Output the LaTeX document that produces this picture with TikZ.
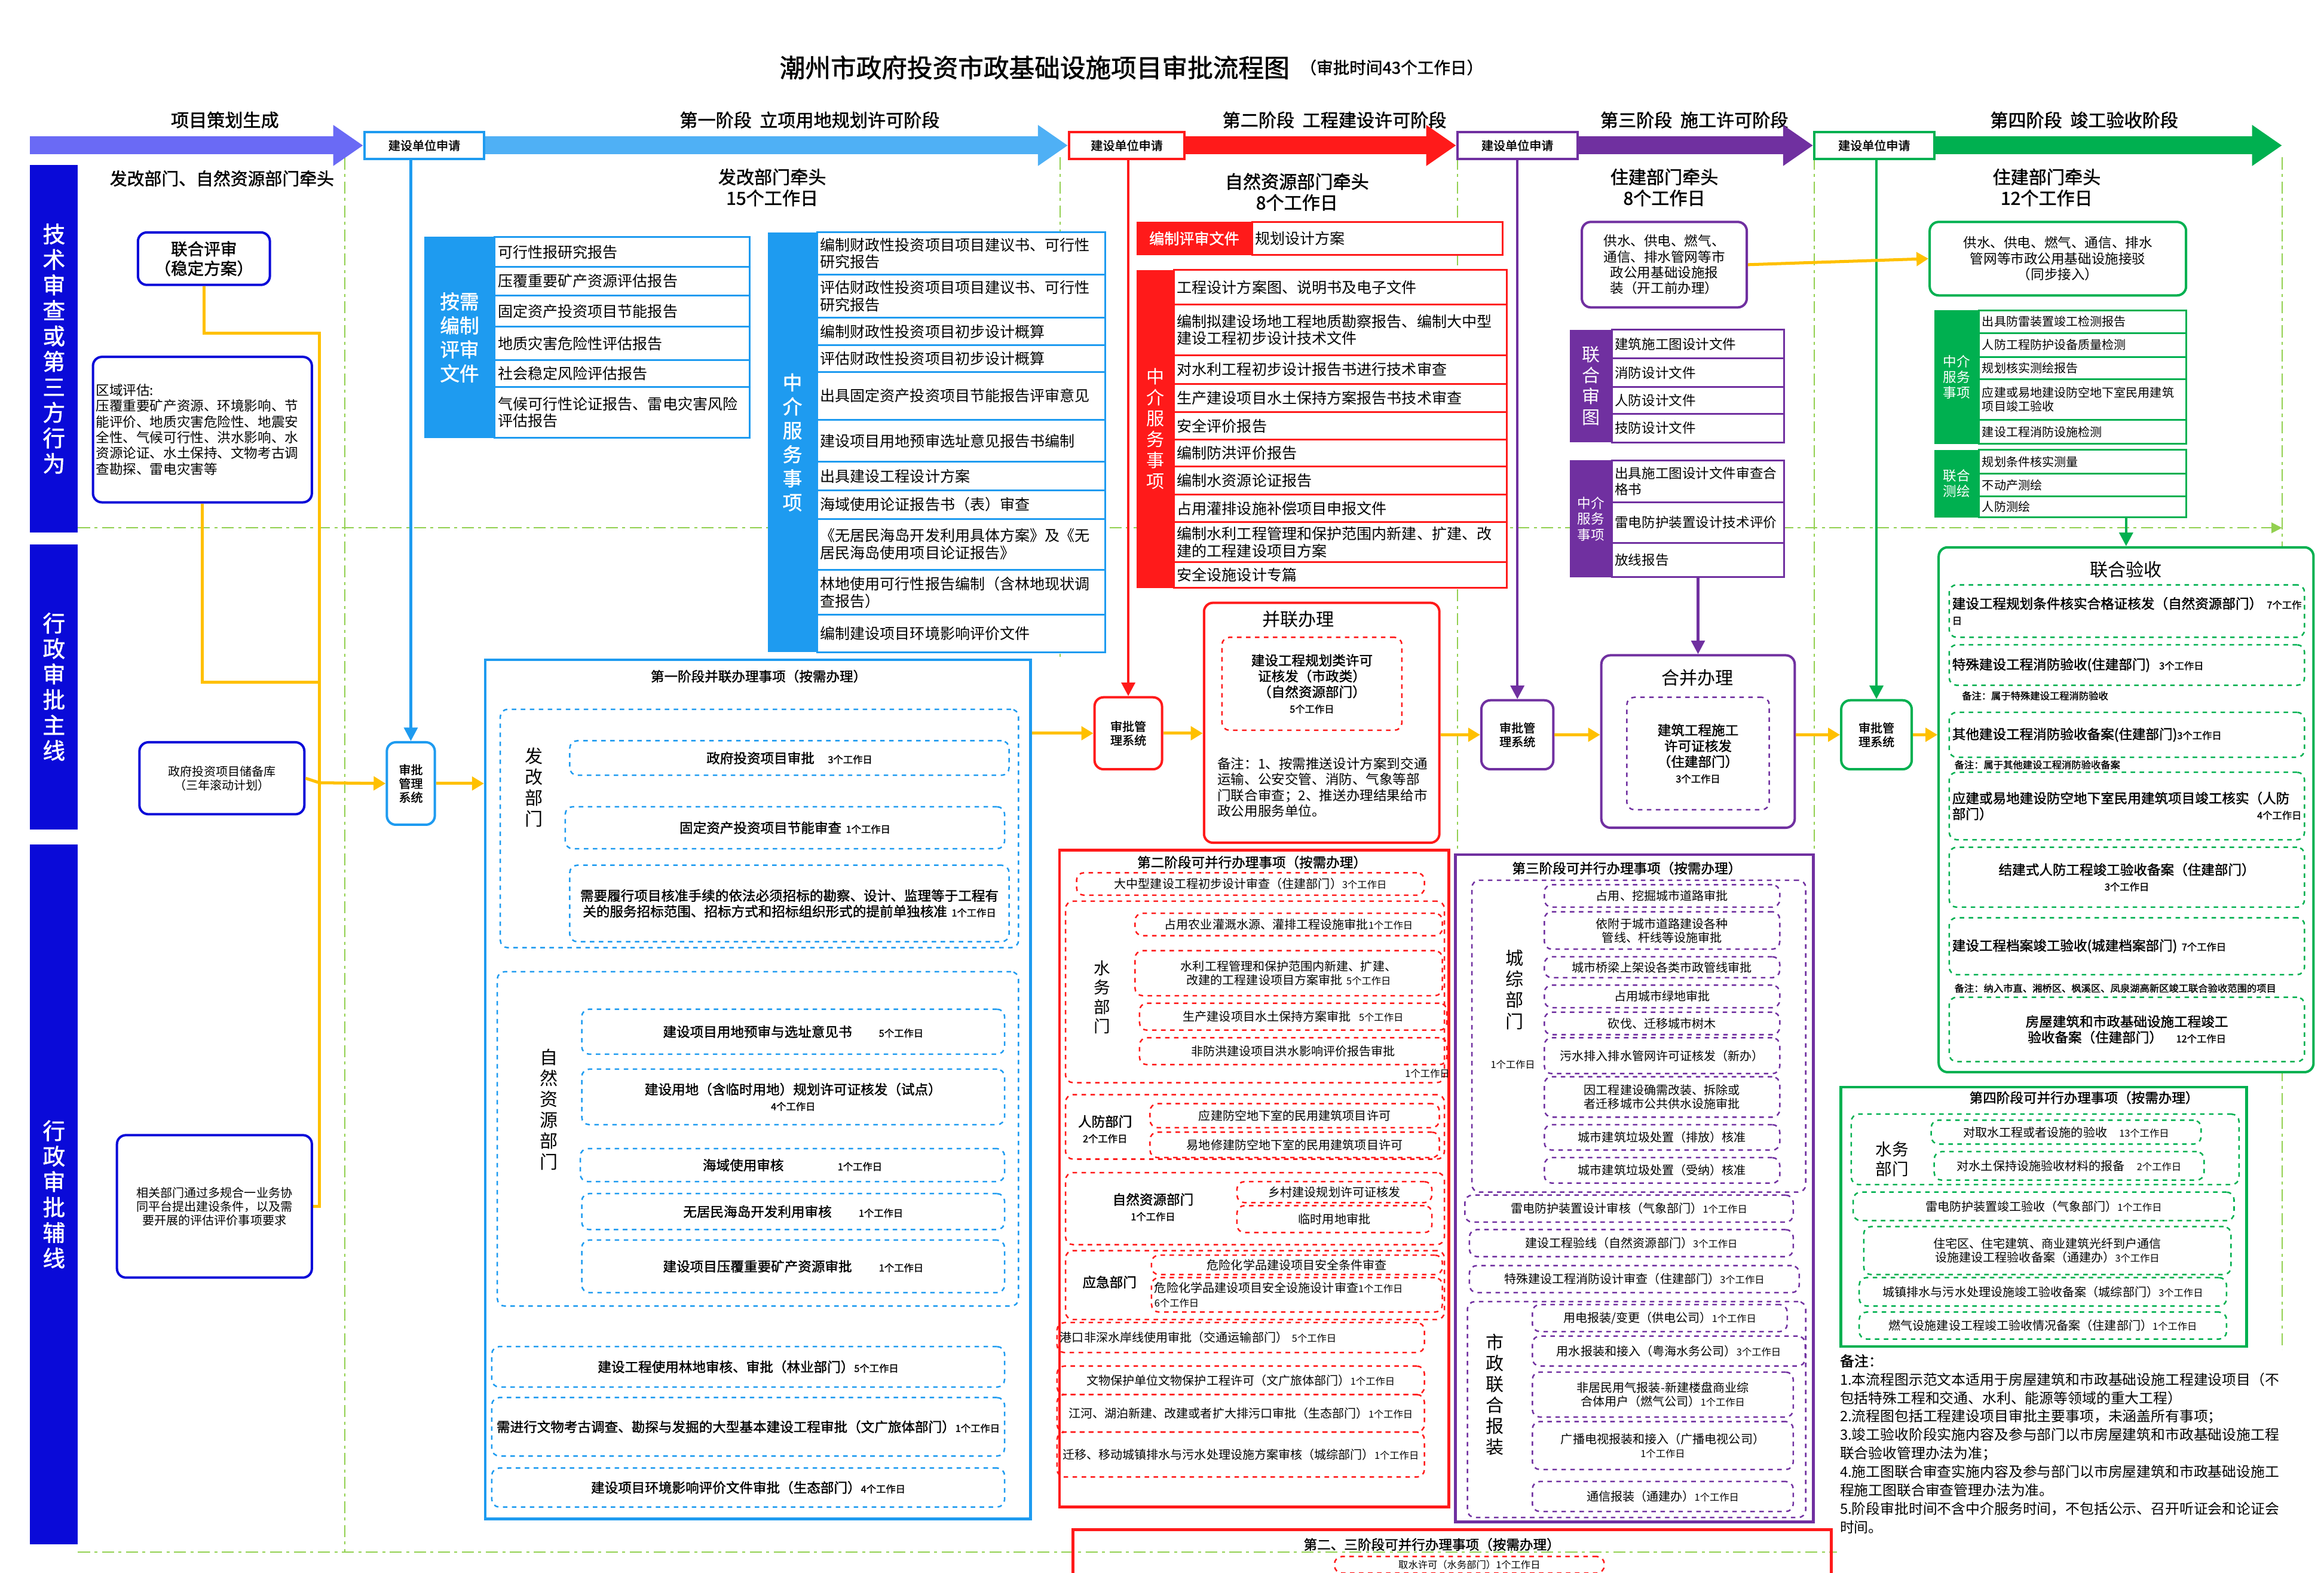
\documentclass[tikz,border=0pt]{standalone}
\usepackage{fontspec}
\setmainfont{Noto Sans CJK SC}[AutoFakeBold=1.5]
\XeTeXlinebreaklocale "zh"
\XeTeXlinebreakskip=0pt
\usetikzlibrary{arrows.meta}
\definecolor{bandblue}{HTML}{6A6AF5}
\definecolor{bandlblue}{HTML}{4FB0F5}
\definecolor{lblue}{HTML}{1E9BF0}
\definecolor{dblue}{HTML}{0A0AD8}
\definecolor{sred}{HTML}{FF1A1A}
\definecolor{spurple}{HTML}{7030A0}
\definecolor{sgreen}{HTML}{00B050}
\definecolor{syellow}{HTML}{FFC000}
\definecolor{dgreen}{HTML}{92D050}
\newcommand{\fa}{\fontsize{10}{11.5}\selectfont}
\newcommand{\fb}{\fontsize{9}{10.5}\selectfont}
\newcommand{\fc}{\fontsize{8}{9.2}\selectfont}
\newcommand{\fd}{\fontsize{6.5}{7.5}\selectfont}
% box from corner (#2,#3) to corner (#4,#5)
\newcommand{\bx}[7]{%
  \pgfmathsetmacro\bxw{#4-#2}\pgfmathsetmacro\bxh{#5-#3}\pgfmathsetmacro\bxt{#4-#2-4}%
  \node[#6, minimum width=\bxw pt, minimum height=\bxh pt, text width=\bxt pt]
    (#1) at ({(#2+#4)/2},{(#3+#5)/2}) {#7};}
\tikzset{
  sb/.style={draw=#1, line width=1.2pt, fill=white, align=left, inner sep=2pt, font=\fa},
  db/.style={draw=#1, dashed, rounded corners=5pt, line width=1pt, align=center, inner sep=2pt, font=\fa},
  grp/.style={draw=#1, dashed, rounded corners=5pt, line width=1pt},
  lb/.style={fill=#1, text=white, align=center, inner sep=2pt, font=\fa\bfseries},
  sysbox/.style={draw=#1, line width=1.6pt, rounded corners=6pt, fill=white, align=center, inner sep=1pt, font=\fc\bfseries},
  appbox/.style={draw=#1, line width=1.6pt, fill=white, align=center, inner sep=1pt, font=\fc\bfseries},
  band/.style={line width=12pt, draw=#1, -{Triangle[length=20pt,width=26pt]}},
  vline/.style={line width=1.8pt, draw=#1, -{Triangle[length=9pt,width=9pt]}},
  yl/.style={line width=2pt, draw=syellow},
  yla/.style={yl, -{Triangle[length=8pt,width=9pt]}},
  sep/.style={draw=dgreen, line width=0.9pt, dash pattern=on 8pt off 3pt on 2pt off 3pt},
  vbar/.style={fill=dblue, text=white, align=center, inner sep=0pt, font=\fontsize{15}{17}\selectfont\bfseries},
  head/.style={align=center, font=\fontsize{12}{14}\selectfont\bfseries},
}
\begin{document}
\begin{tikzpicture}[x=1pt, y=-1pt]
\useasboundingbox (0,0) rectangle (1550,1049);
% separators
\draw[sep] (230,105) -- (230,1035);
\draw[sep] (707,105) -- (707,440);
\draw[sep] (972,105) -- (972,570);
\draw[sep] (1210,105) -- (1210,900);
\draw[sep] (1522,105) -- (1522,900);
\draw[sep, -{Triangle[length=7pt,width=7pt]}] (52,352) -- (1522,352);
\draw[sep] (52,1035) -- (1225,1035);
% title
\node[font=\fontsize{17}{20}\selectfont\bfseries] (title) at (690,45) {潮州市政府投资市政基础设施项目审批流程图};
\node[font=\fontsize{11}{13}\selectfont\bfseries, anchor=west] (titlex) at (title.east) {（审批时间43个工作日）};
% stage headings
\node[head] (h0) at (150,80) {项目策划生成};
\node[head] (h1) at (540,80) {第一阶段\ \ 立项用地规划许可阶段};
\node[head] (h2) at (890,80) {第二阶段\ \ 工程建设许可阶段};
\node[head] (h3) at (1130,80) {第三阶段\ \ 施工许可阶段};
\node[head] (h4) at (1390,80) {第四阶段\ \ 竣工验收阶段};
% top band
\coordinate (bandstart) at (20,97);
\bx{app1}{243}{88}{323}{106}{appbox=lblue}{建设单位申请}
\bx{app2}{713}{88}{790}{106}{appbox=sred}{建设单位申请}
\bx{app3}{972}{88}{1052}{106}{appbox=spurple}{建设单位申请}
\bx{app4}{1210}{88}{1290}{106}{appbox=sgreen}{建设单位申请}
\coordinate (bandend) at (1522,97);
\draw[band=bandblue] (bandstart) -- (app1.west);
\draw[band=bandlblue] (app1.east) -- (app2.west);
\draw[band=sred] (app2.east) -- (app3.west);
\draw[band=spurple] (app3.east) -- (app4.west);
\draw[band=sgreen] (app4.east) -- (bandend);
% left bars
\bx{bar1}{20}{110}{52}{355}{vbar}{技\\术\\审\\查\\或\\第\\三\\方\\行\\为}
\bx{bar2}{20}{363}{52}{553}{vbar}{行\\政\\审\\批\\主\\线}
\bx{bar3}{20}{563}{52}{1030}{vbar}{行\\政\\审\\批\\辅\\线}
% leads
\node[head, font=\fontsize{11.5}{14}\selectfont\bfseries] (lead0) at (148,119) {发改部门、自然资源部门牵头};
\node[head] (lead1) at (515,125) {发改部门牵头\\15个工作日};
\node[head] (lead2) at (865,128) {自然资源部门牵头\\8个工作日};
\node[head] (lead3) at (1110,125) {住建部门牵头\\8个工作日};
\node[head] (lead4) at (1365,125) {住建部门牵头\\12个工作日};
% planning column
\bx{joint}{92}{155}{180}{190}{sysbox=dblue, font=\fontsize{11}{13}\selectfont\bfseries}{联合评审\\（稳定方案）}
\bx{region}{62}{238}{208}{335}{sysbox=dblue, align=left, font=\fb\mdseries}{区域评估:\\压覆重要矿产资源、环境影响、节能评价、地质灾害危险性、地震安全性、气候可行性、洪水影响、水资源论证、水土保持、文物考古调查勘探、雷电灾害等}
\bx{reserve}{93}{495}{203}{543}{sysbox=dblue, font=\fc\mdseries}{政府投资项目储备库\\（三年滚动计划）}
\bx{multi}{78}{757}{208}{852}{sysbox=dblue, font=\fc\mdseries}{相关部门通过多规合一业务协同平台提出建设条件，以及需要开展的评估评价事项要求}
\coordinate (jn) at (213,522);
\coordinate (ja) at (213,222);
\coordinate (jb) at (213,455);
\draw[yl] (joint.south) |- (ja) -- (jn);
\draw[yl] (region.south) |- (jb);
\draw[yl] (multi.east) -| (jn);
\draw[yl] (reserve.east) -- (jn);
% stage 1
\bx{sys1}{258}{495}{290}{550}{sysbox=lblue}{审批\\管理\\系统}
\draw[yla] (jn) -- (sys1.west);
\draw[vline=lblue] (app1.south -| sys1) -- (sys1.north);
\bx{l1a}{283}{158}{330}{292}{lb=lblue, font=\fontsize{13}{16}\selectfont\bfseries}{按需\\编制\\评审\\文件}
\bx{a1}{330}{158}{500}{178}{sb=lblue}{可行性报研究报告}
\bx{a2}{330}{178}{500}{197}{sb=lblue}{压覆重要矿产资源评估报告}
\bx{a3}{330}{197}{500}{218}{sb=lblue}{固定资产投资项目节能报告}
\bx{a4}{330}{218}{500}{240}{sb=lblue}{地质灾害危险性评估报告}
\bx{a5}{330}{240}{500}{258}{sb=lblue}{社会稳定风险评估报告}
\bx{a6}{330}{258}{500}{292}{sb=lblue}{气候可行性论证报告、雷电灾害风险评估报告}
\bx{l1b}{512}{155}{545}{435}{lb=lblue, font=\fontsize{13}{16}\selectfont\bfseries}{中\\介\\服\\务\\事\\项}
\bx{b1}{545}{155}{737}{183}{sb=lblue}{编制财政性投资项目项目建议书、可行性研究报告}
\bx{b2}{545}{183}{737}{212}{sb=lblue}{评估财政性投资项目项目建议书、可行性研究报告}
\bx{b3}{545}{212}{737}{230}{sb=lblue}{编制财政性投资项目初步设计概算}
\bx{b4}{545}{230}{737}{248}{sb=lblue}{评估财政性投资项目初步设计概算}
\bx{b5}{545}{248}{737}{280}{sb=lblue}{出具固定资产投资项目节能报告评审意见}
\bx{b6}{545}{280}{737}{308}{sb=lblue}{建设项目用地预审选址意见报告书编制}
\bx{b7}{545}{308}{737}{327}{sb=lblue}{出具建设工程设计方案}
\bx{b8}{545}{327}{737}{346}{sb=lblue}{海域使用论证报告书（表）审查}
\bx{b9}{545}{346}{737}{380}{sb=lblue}{《无居民海岛开发利用具体方案》及《无居民海岛使用项目论证报告》}
\bx{b10}{545}{380}{737}{410}{sb=lblue}{林地使用可行性报告编制（含林地现状调查报告）}
\bx{b11}{545}{410}{737}{435}{sb=lblue}{编制建设项目环境影响评价文件}
% stage 1 parallel
\bx{p1}{325}{440}{686}{1013}{draw=lblue, line width=1.8pt}{}
\node[font=\fb\bfseries] (p1t) at (506,451) {第一阶段并联办理事项（按需办理）};
\bx{g1}{335}{473}{678}{632}{grp=lblue}{}
\node[align=center, font=\fontsize{12}{14}\selectfont] (g1l) at (356,525) {发\\改\\部\\门};
\bx{c1}{380}{494}{673}{517}{db=lblue, font=\fb\bfseries}{政府投资项目审批\quad{\fd 3个工作日}}
\bx{c2}{377}{538}{670}{566}{db=lblue, font=\fb\bfseries}{固定资产投资项目节能审查\ {\fd 1个工作日}}
\bx{c3}{380}{577}{673}{628}{db=lblue, font=\fb\bfseries}{需要履行项目核准手续的依法必须招标的勘察、设计、监理等于工程有关的服务招标范围、招标方式和招标组织形式的提前单独核准\ {\fd 1个工作日}}
\bx{g2}{333}{648}{678}{871}{grp=lblue}{}
\node[align=center, font=\fontsize{12}{14}\selectfont] (g2l) at (366,740) {自\\然\\资\\源\\部\\门};
\bx{c4}{388}{673}{670}{703}{db=lblue, font=\fb\bfseries}{建设项目用地预审与选址意见书\qquad{\fd 5个工作日}}
\bx{c5}{388}{713}{670}{750}{db=lblue, font=\fb\bfseries}{建设用地（含临时用地）规划许可证核发（试点）\\{\fd 4个工作日}}
\bx{c6}{387}{766}{670}{788}{db=lblue, font=\fb\bfseries}{海域使用审核\qquad\qquad{\fd 1个工作日}}
\bx{c7}{388}{796}{670}{820}{db=lblue, font=\fb\bfseries}{无居民海岛开发利用审核\qquad{\fd 1个工作日}}
\bx{c8}{388}{827}{670}{862}{db=lblue, font=\fb\bfseries}{建设项目压覆重要矿产资源审批\qquad{\fd 1个工作日}}
\bx{c9}{328}{898}{670}{925}{db=lblue, font=\fb\bfseries}{建设工程使用林地审核、审批（林业部门）{\fd 5个工作日}}
\bx{c10}{328}{932}{670}{971}{db=lblue, font=\fb\bfseries}{需进行文物考古调查、勘探与发掘的大型基本建设工程审批（文广旅体部门）{\fd 1个工作日}}
\bx{c11}{328}{979}{670}{1005}{db=lblue, font=\fb\bfseries}{建设项目环境影响评价文件审批（生态部门）{\fd 4个工作日}}
\draw[yla] (sys1.east) -- (sys1.east -| p1.west);
% stage 2
\bx{sys2}{730}{465}{775}{513}{sysbox=sred}{审批管\\理系统}
\draw[vline=sred] (app2.south -| sys2) -- (sys2.north);
\draw[yla] (p1.east |- sys2) -- (sys2.west);
\bx{l2a}{758}{148}{835}{170}{lb=sred}{编制评审文件}
\bx{d0}{835}{148}{1002}{170}{sb=sred}{规划设计方案}
\bx{l2b}{758}{180}{783}{392}{lb=sred, font=\fontsize{12}{14}\selectfont}{中\\介\\服\\务\\事\\项}
\bx{d1}{783}{180}{1005}{203}{sb=sred}{工程设计方案图、说明书及电子文件}
\bx{d2}{783}{203}{1005}{237}{sb=sred}{编制拟建设场地工程地质勘察报告、编制大中型建设工程初步设计技术文件}
\bx{d3}{783}{237}{1005}{256}{sb=sred}{对水利工程初步设计报告书进行技术审查}
\bx{d4}{783}{256}{1005}{275}{sb=sred}{生产建设项目水土保持方案报告书技术审查}
\bx{d5}{783}{275}{1005}{293}{sb=sred}{安全评价报告}
\bx{d6}{783}{293}{1005}{311}{sb=sred}{编制防洪评价报告}
\bx{d7}{783}{311}{1005}{330}{sb=sred}{编制水资源论证报告}
\bx{d8}{783}{330}{1005}{348}{sb=sred}{占用灌排设施补偿项目申报文件}
\bx{d9}{783}{348}{1005}{375}{sb=sred}{编制水利工程管理和保护范围内新建、扩建、改建的工程建设项目方案}
\bx{d10}{783}{375}{1005}{392}{sb=sred}{安全设施设计专篇}
\bx{merge2}{803}{402}{960}{562}{sysbox=sred, font=\fa}{}
\node[font=\fontsize{12}{14}\selectfont] (m2t) at (866,413) {并联办理};
\bx{m2a}{815}{425}{935}{487}{db=sred, font=\fb\bfseries}{建设工程规划类许可证核发（市政类）\\（自然资源部门）\\{\fd 5个工作日}}
\node[text width=140pt, align=left, font=\fb] (m2n) at (882,525) {备注：1、按需推送设计方案到交通运输、公安交管、消防、气象等部门联合审查；2、推送办理结果给市政公用服务单位。};
\draw[yla] (sys2.east) -- (sys2.east -| merge2.west);
% stage 2 parallel
\bx{p2}{708}{567}{965}{1005}{draw=sred, line width=1.8pt}{}
\node[font=\fb\bfseries] (p2t) at (835,575) {第二阶段可并行办理事项（按需办理）};
\bx{e0}{718}{582}{950}{597}{db=sred, font=\fc}{大中型建设工程初步设计审查（住建部门）{\fd 3个工作日}}
\bx{gw}{712}{601}{962}{722}{grp=sred}{}
\node[align=center, font=\fontsize{11}{13}\selectfont] (gwl) at (735,665) {水\\务\\部\\门};
\bx{e1}{757}{609}{962}{624}{db=sred, font=\fc}{占用农业灌溉水源、灌排工程设施审批{\fd 1个工作日}}
\bx{e2}{757}{634}{962}{664}{db=sred, font=\fc}{水利工程管理和保护范围内新建、扩建、改建的工程建设项目方案审批\ {\fd 5个工作日}}
\bx{e3}{760}{669}{965}{687}{db=sred, font=\fc}{生产建设项目水土保持方案审批\ \ {\fd 5个工作日}}
\bx{e4}{760}{692}{965}{710}{db=sred, font=\fc}{非防洪建设项目洪水影响评价报告审批}
\node[font=\fd] (e4d) at (952,716) {1个工作日};
\bx{gr}{712}{730}{962}{773}{grp=sred}{}
\node[align=center, font=\fb\bfseries] (grl) at (737,753) {人防部门\\{\fd 2个工作日}};
\bx{e5}{767}{736}{960}{752}{db=sred, font=\fc}{应建防空地下室的民用建筑项目许可}
\bx{e6}{767}{755}{960}{772}{db=sred, font=\fc}{易地修建防空地下室的民用建筑项目许可}
\bx{gz}{712}{782}{962}{830}{grp=sred}{}
\node[align=center, font=\fb\bfseries] (gzl) at (769,805) {自然资源部门\\{\fd 1个工作日}};
\bx{e7}{825}{788}{955}{802}{db=sred, font=\fc}{乡村建设规划许可证核发}
\bx{e8}{825}{804}{955}{822}{db=sred, font=\fc}{临时用地审批}
\bx{gy}{712}{834}{962}{880}{grp=sred}{}
\node[font=\fb\bfseries] (gyl) at (740,855) {应急部门};
\bx{e9}{768}{837}{962}{850}{db=sred, font=\fc}{危险化学品建设项目安全条件审查}
\bx{e10}{768}{852}{962}{875}{db=sred, font=\fc, align=left}{危险化学品建设项目安全设施设计审查{\fd 1个工作日}\\{\fd 6个工作日}}
\bx{e11}{705}{882}{950}{902}{db=sred, font=\fc, align=left}{港口非深水岸线使用审批（交通运输部门）\ {\fd 5个工作日}}
\bx{e12}{705}{911}{950}{930}{db=sred, font=\fc}{文物保护单位文物保护工程许可（文广旅体部门）{\fd 1个工作日}}
\bx{e13}{705}{930}{950}{955}{db=sred, font=\fc}{江河、湖泊新建、改建或者扩大排污口审批（生态部门）{\fd 1个工作日}}
\bx{e14}{705}{955}{950}{985}{db=sred, font=\fc}{迁移、移动城镇排水与污水处理设施方案审核（城综部门）{\fd 1个工作日}}
% stage 2-3 parallel (cut off)
\bx{p23}{717}{1020}{1220}{1080}{draw=sred, line width=1.8pt}{}
\node[font=\fb\bfseries] (p23t) at (955,1030) {第二、三阶段可并行办理事项（按需办理）};
\bx{f1}{890}{1038}{1070}{1049}{db=sred, font=\fd, inner sep=0.5pt}{取水许可（水务部门）1个工作日}
% stage 3
\bx{sys3}{988}{467}{1036}{513}{sysbox=spurple}{审批管\\理系统}
\draw[vline=spurple] (app3.south -| sys3) -- (sys3.north);
\draw[yla] (merge2.east |- sys3) -- (sys3.west);
\bx{pre3}{1055}{148}{1165}{205}{sysbox=spurple, font=\fb\mdseries}{供水、供电、燃气、通信、排水管网等市政公用基础设施报装（开工前办理）}
\bx{l3a}{1047}{220}{1075}{295}{lb=spurple, font=\fontsize{12}{14}\selectfont}{联\\合\\审\\图}
\bx{k1}{1075}{220}{1190}{239}{sb=spurple, font=\fb}{建筑施工图设计文件}
\bx{k2}{1075}{239}{1190}{258}{sb=spurple, font=\fb}{消防设计文件}
\bx{k3}{1075}{258}{1190}{276}{sb=spurple, font=\fb}{人防设计文件}
\bx{k4}{1075}{276}{1190}{295}{sb=spurple, font=\fb}{技防设计文件}
\bx{l3b}{1047}{307}{1075}{385}{lb=spurple, font=\fb}{中介\\服务\\事项}
\bx{k5}{1075}{307}{1190}{335}{sb=spurple, font=\fb}{出具施工图设计文件审查合格书}
\bx{k6}{1075}{335}{1190}{362}{sb=spurple, font=\fb}{雷电防护装置设计技术评价}
\bx{k7}{1075}{362}{1190}{385}{sb=spurple, font=\fb}{放线报告}
\bx{merge3}{1068}{437}{1197}{552}{sysbox=spurple}{}
\node[font=\fontsize{12}{14}\selectfont] (m3t) at (1132,452) {合并办理};
\bx{m3a}{1085}{465}{1180}{540}{db=spurple, font=\fb\bfseries}{建筑工程施工许可证核发\\（住建部门）\\{\fd 3个工作日}}
\draw[vline=spurple] (k7.south -| merge3) -- (merge3.north);
\draw[yla] (sys3.east) -- (sys3.east -| merge3.west);
% stage 3 parallel
\bx{p3}{972}{570}{1208}{1015}{draw=spurple, line width=1.8pt}{}
\node[font=\fb\bfseries] (p3t) at (1085,579) {第三阶段可并行办理事项（按需办理）};
\bx{gc}{983}{587}{1203}{795}{grp=spurple}{}
\node[align=center, font=\fontsize{12}{14}\selectfont] (gcl) at (1010,660) {城\\综\\部\\门};
\node[font=\fd] (gcd) at (1009,710) {1个工作日};
\bx{n1}{1030}{590}{1187}{605}{db=spurple, font=\fc}{占用、挖掘城市道路审批}
\bx{n2}{1030}{608}{1187}{633}{db=spurple, font=\fc}{依附于城市道路建设各种管线、杆线等设施审批}
\bx{n3}{1030}{638}{1187}{652}{db=spurple, font=\fc}{城市桥梁上架设各类市政管线审批}
\bx{n4}{1030}{657}{1187}{672}{db=spurple, font=\fc}{占用城市绿地审批}
\bx{n5}{1030}{675}{1187}{690}{db=spurple, font=\fc}{砍伐、迁移城市树木}
\bx{n6}{1030}{692}{1187}{716}{db=spurple, font=\fc}{污水排入排水管网许可证核发（新办）}
\bx{n7}{1030}{718}{1187}{745}{db=spurple, font=\fc}{因工程建设确需改装、拆除或者迁移城市公共供水设施审批}
\bx{n8}{1030}{750}{1187}{767}{db=spurple, font=\fc}{城市建筑垃圾处置（排放）核准}
\bx{n9}{1030}{772}{1187}{789}{db=spurple, font=\fc}{城市建筑垃圾处置（受纳）核准}
\bx{n10}{977}{797}{1196}{815}{db=spurple, font=\fc}{雷电防护装置设计审核（气象部门）{\fd 1个工作日}}
\bx{n11}{980}{820}{1196}{838}{db=spurple, font=\fc}{建设工程验线（自然资源部门）{\fd 3个工作日}}
\bx{n12}{980}{844}{1200}{862}{db=spurple, font=\fc}{特殊建设工程消防设计审查（住建部门）{\fd 3个工作日}}
\bx{gs}{980}{868}{1203}{1012}{grp=spurple}{}
\node[align=center, font=\fontsize{12}{14}\selectfont] (gsl) at (997,930) {市\\政\\联\\合\\报\\装};
\bx{q1}{1022}{870}{1192}{888}{db=spurple, font=\fc}{用电报装/变更（供电公司）{\fd 1个工作日}}
\bx{q2}{1022}{891}{1204}{911}{db=spurple, font=\fc}{用水报装和接入（粤海水务公司）{\fd 3个工作日}}
\bx{q3}{1022}{915}{1196}{945}{db=spurple, font=\fc}{非居民用气报装-新建楼盘商业综合体用户（燃气公司）{\fd 1个工作日}}
\bx{q4}{1022}{948}{1196}{980}{db=spurple, font=\fc}{广播电视报装和接入（广播电视公司）\\{\fd 1个工作日}}
\bx{q5}{1022}{988}{1196}{1008}{db=spurple, font=\fc}{通信报装（通建办）{\fd 1个工作日}}
% stage 4
\bx{sys4}{1228}{467}{1275}{513}{sysbox=sgreen}{审批管\\理系统}
\draw[vline=sgreen] (app4.south -| sys4) -- (sys4.north);
\draw[yla] (merge3.east |- sys4) -- (sys4.west);
\bx{pre4}{1287}{148}{1458}{197}{sysbox=sgreen, font=\fb\mdseries}{供水、供电、燃气、通信、排水管网等市政公用基础设施接驳\\（同步接入）}
\draw[yla] (pre3.east) -- (pre4.west);
\bx{l4a}{1290}{207}{1320}{296}{lb=sgreen, font=\fb}{中介\\服务\\事项}
\bx{r1}{1320}{207}{1458}{222}{sb=sgreen, font=\fc}{出具防雷装置竣工检测报告}
\bx{r2}{1320}{222}{1458}{238}{sb=sgreen, font=\fc}{人防工程防护设备质量检测}
\bx{r3}{1320}{238}{1458}{253}{sb=sgreen, font=\fc}{规划核实测绘报告}
\bx{r4}{1320}{253}{1458}{280}{sb=sgreen, font=\fc}{应建或易地建设防空地下室民用建筑项目竣工验收}
\bx{r5}{1320}{280}{1458}{296}{sb=sgreen, font=\fc}{建设工程消防设施检测}
\bx{l4b}{1290}{300}{1320}{345}{lb=sgreen, font=\fb}{联合\\测绘}
\bx{r6}{1320}{300}{1458}{316}{sb=sgreen, font=\fc}{规划条件核实测量}
\bx{r7}{1320}{316}{1458}{331}{sb=sgreen, font=\fc}{不动产测绘}
\bx{r8}{1320}{331}{1458}{345}{sb=sgreen, font=\fc}{人防测绘}
\bx{acc}{1293}{365}{1543}{715}{sysbox=sgreen}{}
\draw[vline=sgreen] (r8.south -| acc) -- (acc.north);
\draw[yla] (sys4.east) -- (sys4.east -| acc.west);
\node[font=\fontsize{12}{14}\selectfont] (acct) at (1418,380) {联合验收};
\bx{s1}{1300}{390}{1537}{425}{db=sgreen, font=\fb\bfseries, align=left}{建设工程规划条件核实合格证核发（自然资源部门）\hfill{\fd 7个工作日}}
\bx{s2}{1300}{430}{1537}{457}{db=sgreen, font=\fb\bfseries, align=left}{特殊建设工程消防验收(住建部门)\ \ {\fd 3个工作日}}
\node[font=\fd\bfseries, anchor=west] (s2n) at (1305,464) {备注：属于特殊建设工程消防验收};
\bx{s3}{1300}{475}{1537}{505}{db=sgreen, font=\fb\bfseries, align=left}{其他建设工程消防验收备案(住建部门){\fd 3个工作日}}
\node[font=\fd\bfseries, anchor=west] (s3n) at (1300,510) {备注：属于其他建设工程消防验收备案};
\bx{s4}{1300}{515}{1537}{560}{db=sgreen, font=\fb\bfseries, align=left}{应建或易地建设防空地下室民用建筑项目竣工核实（人防部门）\hfill{\fd 4个工作日}}
\bx{s5}{1300}{565}{1537}{605}{db=sgreen, font=\fb\bfseries}{结建式人防工程竣工验收备案（住建部门）\\{\fd 3个工作日}}
\bx{s6}{1300}{612}{1537}{650}{db=sgreen, font=\fb\bfseries, align=left}{建设工程档案竣工验收(城建档案部门)\ {\fd 7个工作日}}
\node[font=\fd\bfseries, anchor=west] (s6n) at (1300,659) {备注：纳入市直、湘桥区、枫溪区、凤泉湖高新区竣工联合验收范围的项目};
\bx{s7}{1300}{665}{1537}{708}{db=sgreen, font=\fb\bfseries}{房屋建筑和市政基础设施工程竣工验收备案（住建部门）\quad{\fd 12个工作日}}
% stage 4 parallel
\bx{p4}{1229}{725}{1497}{898}{draw=sgreen, line width=1.8pt}{}
\node[font=\fb\bfseries] (p4t) at (1390,732) {第四阶段可并行办理事项（按需办理）};
\bx{gw4}{1236}{743}{1492}{790}{grp=sgreen}{}
\node[align=center, font=\fontsize{11}{13}\selectfont] (gw4l) at (1262,773) {水务\\部门};
\bx{t1}{1288}{747}{1468}{763}{db=sgreen, font=\fc}{对取水工程或者设施的验收\quad{\fd 13个工作日}}
\bx{t2}{1290}{768}{1470}{787}{db=sgreen, font=\fc}{对水土保持设施验收材料的报备\quad{\fd 2个工作日}}
\bx{t3}{1236}{795}{1490}{814}{db=sgreen, font=\fc}{雷电防护装置竣工验收（气象部门）{\fd 1个工作日}}
\bx{t4}{1243}{818}{1488}{850}{db=sgreen, font=\fc}{住宅区、住宅建筑、商业建筑光纤到户通信设施建设工程验收备案（通建办）{\fd 3个工作日}}
\bx{t5}{1240}{852}{1485}{871}{db=sgreen, font=\fc}{城镇排水与污水处理设施竣工验收备案（城综部门）{\fd 3个工作日}}
\bx{t6}{1240}{875}{1485}{893}{db=sgreen, font=\fc}{燃气设施建设工程竣工验收情况备案（住建部门）{\fd 1个工作日}}
% notes
\node[anchor=north west, text width=300pt, align=left, inner sep=0pt, font=\fontsize{9.5}{12.3}\selectfont] (notes) at (1227,903) {{\bfseries 备注：}\\1.本流程图示范文本适用于房屋建筑和市政基础设施工程建设项目（不包括特殊工程和交通、水利、能源等领域的重大工程）\\2.流程图包括工程建设项目审批主要事项，未涵盖所有事项；\\3.竣工验收阶段实施内容及参与部门以市房屋建筑和市政基础设施工程联合验收管理办法为准；\\4.施工图联合审查实施内容及参与部门以市房屋建筑和市政基础设施工程施工图联合审查管理办法为准。\\5.阶段审批时间不含中介服务时间，不包括公示、召开听证会和论证会时间。};
\end{tikzpicture}
\end{document}
